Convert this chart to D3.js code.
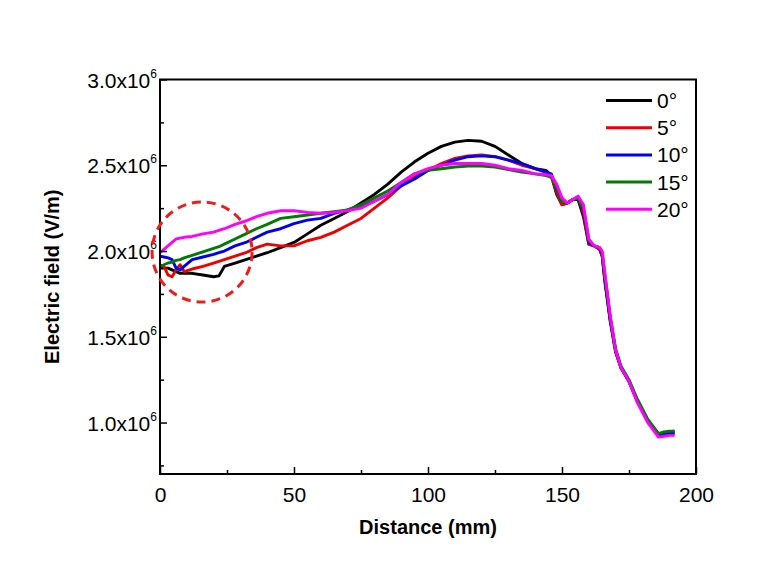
<!DOCTYPE html>
<html>
<head>
<meta charset="utf-8">
<script src="https://cdn.jsdelivr.net/npm/d3@7/dist/d3.min.js"></script>
<style>
  html, body { margin: 0; padding: 0; background: #fff; }
  svg { display: block; font-family: "Liberation Sans", Arial, sans-serif; }
</style>
</head>
<body>
<svg id="chart" width="773" height="582"></svg>
<script>
// Distance (mm) sample grid shared by all series
const distance = [0, 1.5, 3, 4.5, 6, 7.5, 9, 12, 16, 20, 22, 24, 28, 32, 36, 40, 45, 50, 55, 60, 65, 70, 75, 80, 85, 90, 95, 100, 105, 110, 115, 120, 125, 130, 135, 140, 144, 146, 148, 150, 152, 154, 156, 158, 160, 162, 164, 165, 166, 168, 170, 172, 175, 178, 182, 186, 188, 190, 192];

// Electric field values (x10^6 V/m)
const field0 = [1.90, 1.90, 1.90, 1.89, 1.88, 1.87, 1.87, 1.87, 1.86, 1.85, 1.855, 1.91, 1.93, 1.95, 1.97, 1.99, 2.02, 2.05, 2.10, 2.15, 2.19, 2.23, 2.28, 2.33, 2.39, 2.46, 2.52, 2.57, 2.61, 2.635, 2.645, 2.64, 2.61, 2.56, 2.51, 2.48, 2.47, 2.44, 2.33, 2.27, 2.28, 2.30, 2.30, 2.20, 2.04, 2.03, 2.01, 1.97, 1.82, 1.59, 1.41, 1.32, 1.24, 1.13, 1.01, 0.935, 0.94, 0.945, 0.95];
const field5 = [1.92, 1.91, 1.86, 1.85, 1.89, 1.92, 1.88, 1.895, 1.91, 1.93, 1.94, 1.95, 1.97, 1.99, 2.02, 2.04, 2.03, 2.03, 2.06, 2.08, 2.11, 2.15, 2.19, 2.25, 2.31, 2.38, 2.43, 2.47, 2.51, 2.54, 2.555, 2.56, 2.55, 2.53, 2.50, 2.48, 2.46, 2.44, 2.34, 2.27, 2.28, 2.30, 2.31, 2.22, 2.04, 2.03, 2.01, 1.97, 1.83, 1.60, 1.42, 1.32, 1.24, 1.13, 1.01, 0.93, 0.935, 0.94, 0.94];
const field10 = [1.97, 1.965, 1.96, 1.95, 1.90, 1.89, 1.91, 1.95, 1.965, 1.98, 1.99, 2.00, 2.03, 2.05, 2.08, 2.11, 2.13, 2.16, 2.18, 2.19, 2.22, 2.24, 2.26, 2.29, 2.33, 2.38, 2.42, 2.47, 2.50, 2.53, 2.55, 2.555, 2.55, 2.53, 2.51, 2.48, 2.46, 2.45, 2.36, 2.29, 2.28, 2.30, 2.31, 2.24, 2.05, 2.03, 2.02, 1.98, 1.84, 1.60, 1.42, 1.32, 1.24, 1.13, 1.01, 0.925, 0.93, 0.935, 0.935];
const field15 = [1.91, 1.92, 1.93, 1.935, 1.945, 1.95, 1.96, 1.975, 1.995, 2.015, 2.025, 2.04, 2.07, 2.10, 2.13, 2.155, 2.19, 2.20, 2.21, 2.22, 2.23, 2.24, 2.27, 2.31, 2.35, 2.40, 2.45, 2.47, 2.48, 2.49, 2.495, 2.495, 2.49, 2.475, 2.46, 2.45, 2.44, 2.43, 2.37, 2.29, 2.28, 2.30, 2.31, 2.25, 2.06, 2.03, 2.02, 1.99, 1.86, 1.62, 1.43, 1.33, 1.25, 1.14, 1.02, 0.935, 0.945, 0.95, 0.95];
const field20 = [1.99, 2.01, 2.03, 2.05, 2.07, 2.075, 2.08, 2.085, 2.10, 2.11, 2.12, 2.13, 2.155, 2.175, 2.20, 2.22, 2.235, 2.235, 2.225, 2.22, 2.225, 2.235, 2.25, 2.29, 2.33, 2.40, 2.45, 2.48, 2.50, 2.51, 2.51, 2.51, 2.50, 2.48, 2.47, 2.45, 2.445, 2.44, 2.39, 2.31, 2.28, 2.30, 2.32, 2.27, 2.07, 2.03, 2.02, 2.00, 1.87, 1.62, 1.42, 1.32, 1.24, 1.12, 1.00, 0.915, 0.92, 0.925, 0.925];

const seriesNames = ["0°", "5°", "10°", "15°", "20°"];
const seriesColors = ["#000000", "#ee0000", "#0000ee", "#007a00", "#ff00ff"];
const seriesValues = [field0, field5, field10, field15, field20];

const xTicks = [0, 50, 100, 150, 200];
const xMinorTicks = [25, 75, 125, 175];
const yTicks = [1.0, 1.5, 2.0, 2.5, 3.0];
const yTickLabels = ["1.0x10", "1.5x10", "2.0x10", "2.5x10", "3.0x10"];
const yMinorTicks = [0.75, 1.25, 1.75, 2.25, 2.75];

// highlight circle (data coords)
const circleCenter = [15.7, 1.994];

const svg = d3.select("#chart");
const L = 160, R = 696, T = 79.5, B = 474;
const x = d3.scaleLinear().domain([0, 200]).range([L, R]);
const y = d3.scaleLinear().domain([0.7, 3.0]).range([B, T]);

// series lines
const line = d3.line().x((d, i) => x(distance[i])).y(d => y(d));
const g = svg.append("g");
seriesValues.forEach((vals, k) => {
  g.append("path")
    .attr("d", line(vals))
    .attr("fill", "none")
    .attr("stroke", seriesColors[k])
    .attr("stroke-width", 2.9)
    .attr("stroke-linejoin", "round");
});

// frame
svg.append("rect")
  .attr("x", L).attr("y", T).attr("width", R - L).attr("height", B - T)
  .attr("fill", "none").attr("stroke", "#000").attr("stroke-width", 2);

// axes ticks (inward)
const xAxis = d3.axisBottom(x).tickValues(xTicks).tickSize(-7).tickPadding(13).tickFormat(d3.format("d"));
const gx = svg.append("g").attr("transform", `translate(0,${B})`).call(xAxis);
gx.select(".domain").remove();
gx.selectAll(".tick line").attr("stroke", "#000").attr("stroke-width", 1.5);
gx.selectAll(".tick text").attr("font-size", 21).attr("fill", "#000").attr("font-family", "Liberation Sans, Arial, sans-serif");

const xMinor = d3.axisBottom(x).tickValues(xMinorTicks).tickSize(-4).tickFormat("");
const gxm = svg.append("g").attr("transform", `translate(0,${B})`).call(xMinor);
gxm.select(".domain").remove();
gxm.selectAll(".tick line").attr("stroke", "#000").attr("stroke-width", 1.5);

const yAxis = d3.axisLeft(y).tickValues(yTicks).tickSize(-7).tickFormat("");
const gy = svg.append("g").attr("transform", `translate(${L},0)`).call(yAxis);
gy.select(".domain").remove();
gy.selectAll(".tick line").attr("stroke", "#000").attr("stroke-width", 1.5);

const yMinor = d3.axisLeft(y).tickValues(yMinorTicks).tickSize(-4).tickFormat("");
const gym = svg.append("g").attr("transform", `translate(${L},0)`).call(yMinor);
gym.select(".domain").remove();
gym.selectAll(".tick line").attr("stroke", "#000").attr("stroke-width", 1.5);

// y tick labels with superscript
yTicks.forEach((v, i) => {
  const t = svg.append("text")
    .attr("x", 157).attr("y", y(v) + 8)
    .attr("text-anchor", "end")
    .attr("font-size", 21).attr("fill", "#000");
  t.append("tspan").text(yTickLabels[i]);
  t.append("tspan").attr("font-size", 12).attr("dy", -10).text("6");
});

// axis titles
svg.append("text")
  .attr("x", (L + R) / 2).attr("y", 534)
  .attr("text-anchor", "middle")
  .attr("font-size", 20).attr("font-weight", "bold")
  .text("Distance (mm)");
svg.append("text")
  .attr("transform", `translate(59,${(T + B) / 2}) rotate(-90)`)
  .attr("text-anchor", "middle")
  .attr("font-size", 20).attr("font-weight", "bold")
  .text("Electric field (V/m)");

// legend
const legY0 = 100.5, legDy = 27.2;
seriesNames.forEach((n, k) => {
  const yy = legY0 + k * legDy;
  svg.append("line").attr("x1", 606).attr("x2", 652).attr("y1", yy).attr("y2", yy)
    .attr("stroke", seriesColors[k]).attr("stroke-width", 3);
  svg.append("text").attr("x", 657).attr("y", yy + 7.5)
    .attr("font-size", 21).attr("fill", "#000").text(n);
});

// dashed highlight circle
svg.append("circle")
  .attr("cx", x(circleCenter[0])).attr("cy", y(circleCenter[1])).attr("r", 50)
  .attr("fill", "none").attr("stroke", "#ee1c1c").attr("stroke-width", 3)
  .attr("stroke-dasharray", "9,6");
</script>
</body>
</html>
